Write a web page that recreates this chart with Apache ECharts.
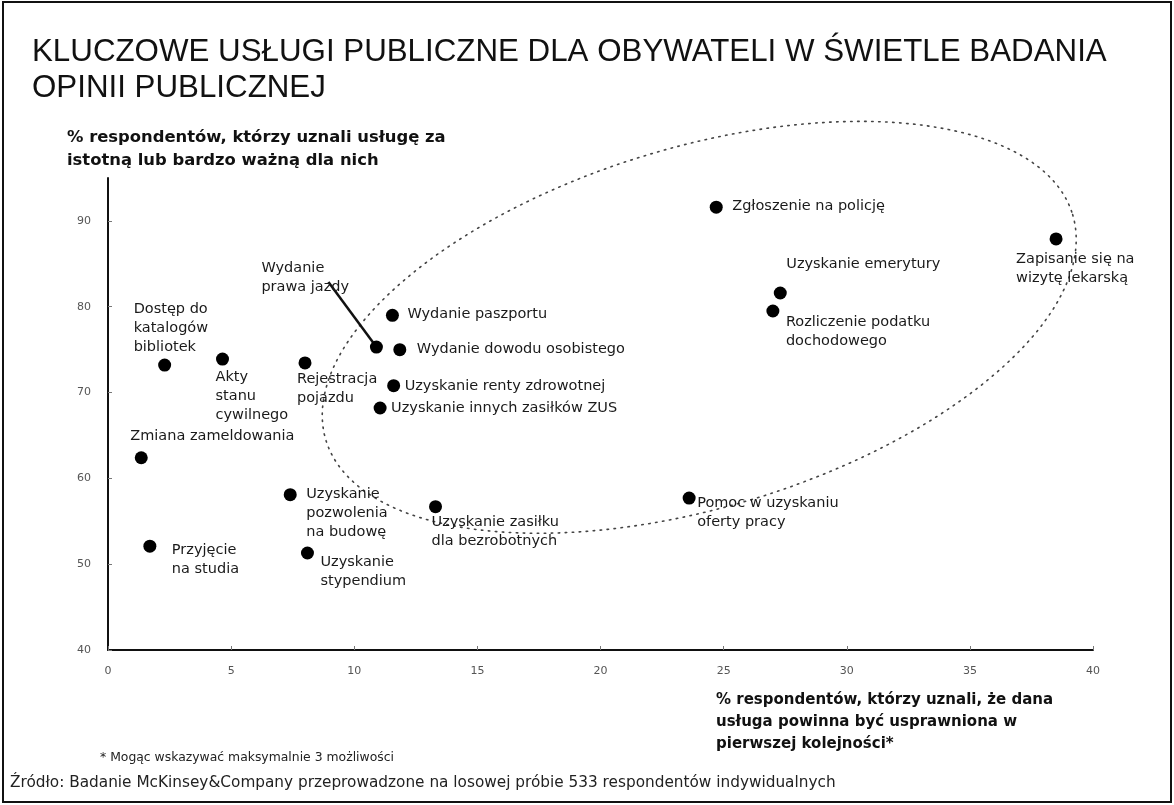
<!DOCTYPE html>
<html>
<head>
<meta charset="utf-8">
<script src="https://cdn.jsdelivr.net/npm/echarts@6/dist/echarts.min.js"></script>
<style>html,body{margin:0;padding:0;background:#fff}#chart{width:1174px;height:805px}</style>
</head>
<body>
<div id="chart"></div>
<script>
// ---- data ----
const services = [
  'Zgłoszenie na policję',
  'Zapisanie się na\nwizytę lekarską',
  'Uzyskanie emerytury',
  'Rozliczenie podatku\ndochodowego',
  'Pomoc w uzyskaniu\noferty pracy',
  'Uzyskanie zasiłku\ndla bezrobotnych',
  'Uzyskanie\npozwolenia\nna budowę',
  'Uzyskanie\nstypendium',
  'Przyjęcie\nna studia',
  'Zmiana zameldowania',
  'Dostęp do\nkatalogów\nbibliotek',
  'Akty\nstanu\ncywilnego',
  'Rejestracja\npojazdu',
  'Wydanie\nprawa jazdy',
  'Wydanie paszportu',
  'Wydanie dowodu osobistego',
  'Uzyskanie renty zdrowotnej',
  'Uzyskanie innych zasiłków ZUS'
];
// % who said the service should be improved first (x)
const improveFirst = [24.7, 38.5, 27.3, 27.0, 23.6, 13.3, 7.4, 8.1, 1.7, 1.35, 2.3, 4.65, 8.0, 10.9, 11.55, 11.85, 11.6, 11.05];
// % who found the service important (y)
const importance   = [91.6, 87.9, 81.6, 79.5, 57.7, 56.7, 58.1, 51.3, 52.1, 62.4, 73.2, 73.9, 73.45, 75.3, 79.0, 75.0, 70.8, 68.2];
const xTickValues = [0, 5, 10, 15, 20, 25, 30, 35, 40];
const yTickValues = [40, 50, 60, 70, 80, 90];

const titleText = 'KLUCZOWE USŁUGI PUBLICZNE DLA OBYWATELI W ŚWIETLE BADANIA\nOPINII PUBLICZNEJ';
const yAxisTitle = '% respondentów, którzy uznali usługę za\nistotną lub bardzo ważną dla nich';
const xAxisTitle = '% respondentów, którzy uznali, że dana\nusługa powinna być usprawniona w\npierwszej kolejności*';
const footnote = '* Mogąc wskazywać maksymalnie 3 możliwości';
const sourceNote = 'Źródło: Badanie McKinsey&Company przeprowadzone na losowej próbie 533 respondentów indywidualnych';

// ---- layout (label offsets of text top-left from dot centre, px) ----
const labelOffsets = [
  [16, -10], [-40, 11], [6, -38], [13, 2], [8, -4], [-4, 6], [16, -10], [13, 0], [22, -5],
  [-11, -31], [-31, -65], [-7, 9], [-8, 7], [-115, -88], [15, -11], [17, -10], [11, -9], [11, -9]
];
const leaderIndex = 13;            // Wydanie prawa jazdy
const leaderEnd = [-48, -65];      // px from dot to label corner
// ellipse annotation (centre in data units, semi-axes in axis units, rotation deg)
const ellipseCenter = [24.01, 77.6];
const ellipseA = 15.84, ellipseB = 20.98, ellipseRot = 16.8;

const SYM = 13;
const font = 'DejaVu Sans';

const chart = echarts.init(document.getElementById('chart'), null, {renderer: 'canvas'});

const option = {
  backgroundColor: '#fff',
  animation: false,
  grid: {left: 108, right: 81, top: 178, bottom: 155, containLabel: false},
  xAxis: {
    type: 'value', min: 0, max: 40, interval: 5,
    splitLine: {show: false},
    axisLine: {show: true, onZero: false, lineStyle: {color: '#111', width: 2}},
    axisTick: {show: true, inside: true, length: 4, lineStyle: {color: '#777'}},
    axisLabel: {color: '#555', fontSize: 11, fontFamily: font, margin: 16,
      customValues: xTickValues},
  },
  yAxis: {
    type: 'value', min: 40, max: 95, interval: 10,
    splitLine: {show: false},
    axisLine: {show: true, onZero: false, lineStyle: {color: '#111', width: 2}},
    axisTick: {show: true, inside: true, length: 4, lineStyle: {color: '#777'}, customValues: yTickValues},
    axisLabel: {color: '#555', fontSize: 11, fontFamily: font, margin: 17, customValues: yTickValues},
  },
  graphic: [
    {type: 'rect', shape: {x: 3, y: 2, width: 1168, height: 800}, style: {fill: 'none', stroke: '#111', lineWidth: 2}, silent: true},
    {type: 'text', x: 32, y: 34, style: {text: titleText, font: '31.3px "Liberation Sans"', fill: '#111', lineHeight: 36}},
    {type: 'text', x: 67, y: 126, style: {text: yAxisTitle, font: 'bold 16.4px "DejaVu Sans"', fill: '#111', lineHeight: 23}},
    {type: 'text', x: 716, y: 689, style: {text: xAxisTitle, font: 'bold 15px "DejaVu Sans"', fill: '#111', lineHeight: 22}},
    {type: 'text', x: 100, y: 752, style: {text: footnote, font: '12.4px "DejaVu Sans"', fill: '#222'}},
    {type: 'text', x: 10, y: 776, style: {text: sourceNote, font: '15.3px "DejaVu Sans"', fill: '#222'}}
  ],
  series: [
    {
      type: 'custom',
      clip: false,
      silent: true,
      z: 1,
      data: [ellipseCenter],
      renderItem: function (params, api) {
        const c = api.coord([api.value(0), api.value(1)]);
        const a = api.size([ellipseA, 0])[0];
        const b = api.size([0, ellipseB])[1];
        const t = ellipseRot * Math.PI / 180;
        const pts = [];
        for (let k = 0; k <= 180; k++) {
          const ang = k / 180 * Math.PI * 2;
          const ex = a * Math.cos(ang), ey = b * Math.sin(ang);
          pts.push([c[0] + ex * Math.cos(t) + ey * Math.sin(t), c[1] - ex * Math.sin(t) + ey * Math.cos(t)]);
        }
        return {type: 'polyline', shape: {points: pts},
          style: {stroke: '#444', fill: null, lineWidth: 1.6, lineDash: [1.5, 5.5], lineCap: 'round'}};
      }
    },
    {
      type: 'custom',
      clip: false,
      silent: true,
      z: 2,
      data: [[improveFirst[leaderIndex], importance[leaderIndex]]],
      renderItem: function (params, api) {
        const p = api.coord([api.value(0), api.value(1)]);
        return {type: 'line', shape: {x1: p[0], y1: p[1], x2: p[0] + leaderEnd[0], y2: p[1] + leaderEnd[1]},
          style: {stroke: '#111', lineWidth: 2.5}};
      }
    },
    {
      type: 'scatter',
      z: 3,
      symbol: 'circle',
      symbolSize: SYM,
      itemStyle: {color: '#000', opacity: 1},
      label: {show: true, formatter: '{b}', color: '#1a1a1a', fontSize: 14.5, fontFamily: font,
        lineHeight: 19, align: 'left', verticalAlign: 'top'},
      data: services.map((name, i) => ({
        name: name,
        value: [improveFirst[i], importance[i]],
        label: {position: [labelOffsets[i][0] + SYM / 2, labelOffsets[i][1] + SYM / 2]}
      }))
    }
  ]
};
chart.setOption(option);
</script>
</body>
</html>
